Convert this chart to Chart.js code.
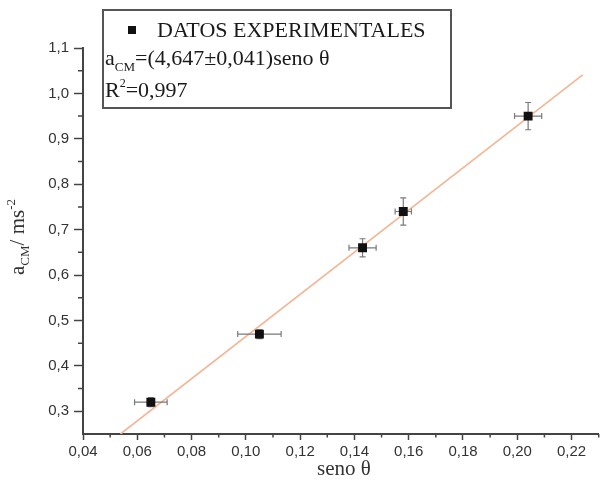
<!DOCTYPE html>
<html><head><meta charset="utf-8">
<script src="https://cdn.jsdelivr.net/npm/chart.js@4/dist/chart.umd.min.js"></script>
<style>html,body{margin:0;padding:0;background:#fff;}#wrap{width:605px;height:495px;position:relative;}</style>
</head><body><div id="wrap"><canvas id="c" width="605" height="495" style="width:605px;height:495px"></canvas></div>
<script>
// ---- data ----
const senoTheta = [0.065, 0.105, 0.143, 0.158, 0.204];
const aCM       = [0.32, 0.47, 0.66, 0.74, 0.95];
const errSeno   = [0.006, 0.008, 0.005, 0.003, 0.005];
const errA      = [0.01, 0.01, 0.02, 0.03, 0.03];
const fitLineX  = [0.0538, 0.2241];
const fitLineY  = [0.25, 1.041];
const xMajorTicks = [0.04,0.06,0.08,0.10,0.12,0.14,0.16,0.18,0.20,0.22];
const xTickLabels = ['0,04','0,06','0,08','0,10','0,12','0,14','0,16','0,18','0,20','0,22'];
const xMinorTicks = [0.05,0.07,0.09,0.11,0.13,0.15,0.17,0.19,0.21,0.23];
const yMajorTicks = [0.3,0.4,0.5,0.6,0.7,0.8,0.9,1.0,1.1];
const yTickLabels = ['0,3','0,4','0,5','0,6','0,7','0,8','0,9','1,0','1,1'];
const yMinorTicks = [0.35,0.45,0.55,0.65,0.75,0.85,0.95,1.05];
const legendLabel = 'DATOS EXPERIMENTALES';

const AX = '#444';
const TXT = '#333';
const near = (a,b)=>Math.abs(a-b)<1e-6;
const majorIdx = (arr,v)=>arr.findIndex(t=>near(t,v));

const pointsData = senoTheta.map((x,i)=>({x:x, y:aCM[i]}));
const fitData = fitLineX.map((x,i)=>({x:x, y:fitLineY[i]}));

const errorBars = {
  id:'errorBars',
  beforeDatasetDraw(chart, args){
    if(args.index!==0) return;
    const {ctx, scales:{x, y}} = chart;
    ctx.save();
    ctx.strokeStyle = '#7a7a7a';
    ctx.lineWidth = 1.2;
    const cap = 3;
    senoTheta.forEach((sx,i)=>{
      const px = x.getPixelForValue(sx), py = y.getPixelForValue(aCM[i]);
      const x1 = x.getPixelForValue(sx-errSeno[i]), x2 = x.getPixelForValue(sx+errSeno[i]);
      const y1 = y.getPixelForValue(aCM[i]-errA[i]), y2 = y.getPixelForValue(aCM[i]+errA[i]);
      ctx.beginPath();
      ctx.moveTo(x1,py); ctx.lineTo(x2,py);
      ctx.moveTo(x1,py-cap); ctx.lineTo(x1,py+cap);
      ctx.moveTo(x2,py-cap); ctx.lineTo(x2,py+cap);
      ctx.moveTo(px,y1); ctx.lineTo(px,y2);
      ctx.moveTo(px-cap,y1); ctx.lineTo(px+cap,y1);
      ctx.moveTo(px-cap,y2); ctx.lineTo(px+cap,y2);
      ctx.stroke();
    });
    ctx.restore();
  }
};

const decorations = {
  id:'decorations',
  afterDraw(chart){
    const {ctx, scales:{x, y}, chartArea} = chart;
    ctx.save();
    // minor ticks
    ctx.strokeStyle = AX; ctx.lineWidth = 1.5;
    ctx.beginPath();
    xMinorTicks.forEach(v=>{const p=x.getPixelForValue(v); ctx.moveTo(p,chartArea.bottom); ctx.lineTo(p,chartArea.bottom+3.5);});
    yMinorTicks.forEach(v=>{const p=y.getPixelForValue(v); ctx.moveTo(chartArea.left,p); ctx.lineTo(chartArea.left-5,p);});
    ctx.stroke();

    // legend box
    const bx=103, by=10, bw=348, bh=98;
    ctx.fillStyle='#fff';
    ctx.fillRect(bx,by,bw,bh);
    ctx.strokeStyle='#555'; ctx.lineWidth=2;
    ctx.strokeRect(bx,by,bw,bh);
    ctx.fillStyle='#111';
    ctx.fillRect(128,26,8,8);
    ctx.fillStyle='#1a1a1a';
    ctx.textBaseline='alphabetic'; ctx.textAlign='left';
    const serif = (s)=>s+'px "Liberation Serif", "Times New Roman", serif';
    ctx.font = serif(22);
    ctx.fillText(legendLabel,157,37);
    // line 2
    let cx = 105;
    ctx.font = serif(22); ctx.fillText('a',cx,65); cx += ctx.measureText('a').width;
    ctx.font = serif(13); ctx.fillText('CM',cx,71); cx += ctx.measureText('CM').width;
    ctx.font = serif(22); ctx.fillText('=(4,647±0,041)seno θ',cx,65);
    // line 3
    cx = 105;
    ctx.font = serif(22); ctx.fillText('R',cx,97); cx += ctx.measureText('R').width;
    ctx.font = serif(12); ctx.fillText('2',cx,87); cx += ctx.measureText('2').width;
    ctx.font = serif(22); ctx.fillText('=0,997',cx,97);

    // x title
    ctx.fillStyle=TXT;
    ctx.font = serif(21); ctx.textAlign='center';
    ctx.fillText('seno θ', 344, 475);

    // y title (rotated)
    ctx.save();
    ctx.translate(24, 237);
    ctx.rotate(-Math.PI/2);
    ctx.textAlign='left';
    const parts = [['a',21,0],['CM',13,5],['/ ms',21,0],['-2',13,-9]];
    let total = 0;
    parts.forEach(p=>{ctx.font=serif(p[1]); total+=ctx.measureText(p[0]).width;});
    let tx = -total/2;
    parts.forEach(p=>{ctx.font=serif(p[1]); ctx.fillText(p[0],tx,p[2]); tx+=ctx.measureText(p[0]).width;});
    ctx.restore();
    ctx.restore();
  }
};

new Chart(document.getElementById('c'), {
  type:'scatter',
  data:{datasets:[
    {label:legendLabel, data:pointsData, pointStyle:'rect', pointRadius:6.3, pointHoverRadius:6.3,
     backgroundColor:'#111', borderColor:'#111', borderWidth:0, showLine:false},
    {label:'ajuste', data:fitData, showLine:true, pointRadius:0, borderColor:'#f5b594', borderWidth:1.6, fill:false}
  ]},
  options:{
    responsive:false, animation:false, devicePixelRatio:1,
    layout:{padding:{top:48,left:0,right:0,bottom:0}},
    plugins:{legend:{display:false}, tooltip:{enabled:false}},
    scales:{
      x:{type:'linear', min:0.04, max:0.23,
        afterBuildTicks:(s)=>{s.ticks = xMajorTicks.map(v=>({value:v}));},
        afterFit:(s)=>{s.height=61;},
        border:{color:AX, width:2},
        grid:{drawOnChartArea:false, drawTicks:true, tickLength:6, tickColor:AX, tickWidth:1.5},
        ticks:{autoSkip:false, maxRotation:0, padding:3, color:TXT, font:{family:'"Liberation Sans", Arial, sans-serif', size:15},
          callback:(v)=>{const i=majorIdx(xMajorTicks,v); return i>=0?xTickLabels[i]:'';}}
      },
      y:{type:'linear', min:0.25, max:1.1,
        afterBuildTicks:(s)=>{s.ticks = yMajorTicks.map(v=>({value:v}));},
        afterFit:(s)=>{s.width=83;},
        border:{color:AX, width:2},
        grid:{drawOnChartArea:false, drawTicks:true, tickLength:9, tickColor:AX, tickWidth:1.5},
        ticks:{autoSkip:false, padding:5, color:TXT, font:{family:'"Liberation Sans", Arial, sans-serif', size:15},
          callback:(v)=>{const i=majorIdx(yMajorTicks,v); return i>=0?yTickLabels[i]:'';}}
      }
    }
  },
  plugins:[errorBars, decorations]
});
</script></body></html>
